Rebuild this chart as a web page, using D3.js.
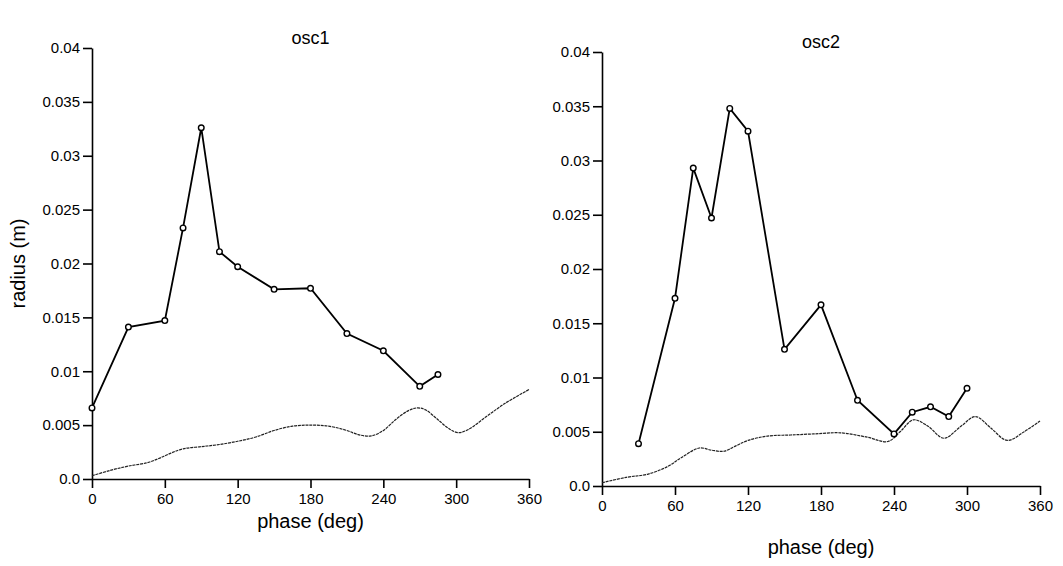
<!DOCTYPE html>
<html>
<head>
<meta charset="utf-8">
<script src="https://cdn.jsdelivr.net/npm/d3@7"></script>
<style>
  body { margin: 0; background: #fff; }
  svg { display: block; font-family: "Liberation Sans", Arial, sans-serif; }
</style>
</head>
<body>
<svg id="chart" width="1063" height="566"></svg>
<script>
// axis ticks
const phaseTicks = [0, 60, 120, 180, 240, 300, 360];
const radiusTicks = [0, 0.005, 0.01, 0.015, 0.02, 0.025, 0.03, 0.035, 0.04];
const radiusTickLabels = ["0.0", "0.005", "0.01", "0.015", "0.02", "0.025", "0.03", "0.035", "0.04"];

// osc1 measured points
const osc1Phase = [0, 30, 60, 75, 90, 105, 120, 150, 180, 210, 240, 270, 285];
const osc1Radius = [0.0066, 0.0141, 0.0147, 0.0233, 0.0326, 0.0211, 0.0197, 0.0176, 0.0177, 0.0135, 0.0119, 0.0086, 0.0097];
// osc1 thin reference curve
const osc1CurvePhase = [0, 15, 30, 45, 55, 65, 75, 90, 105, 120, 135, 150, 165, 180, 195, 210, 220, 230, 240, 250, 260, 268, 275, 285, 295, 302, 310, 325, 340, 360];
const osc1CurveRadius = [0.0003, 0.0008, 0.0012, 0.0015, 0.0019, 0.0024, 0.0028, 0.003, 0.0032, 0.0035, 0.0039, 0.0045, 0.0049, 0.005, 0.0049, 0.0045, 0.0041, 0.004, 0.0045, 0.0055, 0.0063, 0.0066, 0.0064, 0.0055, 0.0046, 0.0043, 0.0046, 0.0058, 0.007, 0.0083];

// osc2 measured points
const osc2Phase = [30, 60, 75, 90, 105, 120, 150, 180, 210, 240, 255, 270, 285, 300];
const osc2Radius = [0.0039, 0.0173, 0.0293, 0.0247, 0.0348, 0.0327, 0.0126, 0.0167, 0.0079, 0.0048, 0.0068, 0.0073, 0.0064, 0.009];
// osc2 thin reference curve
const osc2CurvePhase = [0, 20, 38, 54, 65, 80, 90, 100, 110, 120, 136, 155, 174, 196, 218, 235, 245, 256, 268, 281, 295, 307, 320, 333, 347, 360];
const osc2CurveRadius = [0.0003, 0.0008, 0.0011, 0.0018, 0.0026, 0.0035, 0.0033, 0.0032, 0.0037, 0.0042, 0.0046, 0.0047, 0.0048, 0.0049, 0.0045, 0.0041, 0.005, 0.0061, 0.0055, 0.0044, 0.0055, 0.0064, 0.0053, 0.0042, 0.005, 0.006];

const svg = d3.select("#chart");

// panel placement: x0/x1 = phase 0/360, y0/y1 = radius 0/0.04
const panels = [
  { title: "osc1", x0: 92, x1: 529, y0: 479, y1: 48, titleY: 44, xLabelY: 528, yLabel: true,
    phase: osc1Phase, radius: osc1Radius, cPhase: osc1CurvePhase, cRadius: osc1CurveRadius },
  { title: "osc2", x0: 602, x1: 1040, y0: 486, y1: 52, titleY: 48, xLabelY: 554, yLabel: false,
    phase: osc2Phase, radius: osc2Radius, cPhase: osc2CurvePhase, cRadius: osc2CurveRadius }
];

panels.forEach(p => {
  const x = d3.scaleLinear().domain([0, 360]).range([p.x0, p.x1]);
  const y = d3.scaleLinear().domain([0, 0.04]).range([p.y0, p.y1]);
  const g = svg.append("g");

  // x axis
  const xAxis = g.append("g")
    .attr("transform", `translate(0,${p.y0})`)
    .call(d3.axisBottom(x).tickValues(phaseTicks).tickSize(9).tickSizeOuter(0).tickPadding(5));
  xAxis.select(".domain").attr("stroke-width", 1.6);
  xAxis.selectAll(".tick line").attr("stroke-width", 1.6);
  xAxis.selectAll("text").attr("font-size", 15).attr("fill", "#000")
    .attr("font-family", "Liberation Sans, Arial, sans-serif");

  // y axis
  const yAxis = g.append("g")
    .attr("transform", `translate(${p.x0},0)`)
    .call(d3.axisLeft(y).tickValues(radiusTicks).tickSize(9).tickSizeOuter(0).tickPadding(3)
      .tickFormat((d, i) => radiusTickLabels[i]));
  yAxis.select(".domain").attr("stroke-width", 1.6);
  yAxis.selectAll(".tick line").attr("stroke-width", 1.6);
  yAxis.selectAll("text").attr("font-size", 15).attr("fill", "#000")
    .attr("font-family", "Liberation Sans, Arial, sans-serif");

  // thin reference curve
  const curveData = p.cPhase.map((d, i) => [d, p.cRadius[i]]);
  g.append("path")
    .datum(curveData)
    .attr("fill", "none")
    .attr("stroke", "#222")
    .attr("stroke-width", 1.2)
    .attr("stroke-dasharray", "3,0.8")
    .attr("d", d3.line().x(d => x(d[0])).y(d => y(d[1])).curve(d3.curveCatmullRom.alpha(0.5)));

  // measured line + markers
  const pts = p.phase.map((d, i) => [d, p.radius[i]]);
  g.append("path")
    .datum(pts)
    .attr("fill", "none")
    .attr("stroke", "#000")
    .attr("stroke-width", 1.8)
    .attr("d", d3.line().x(d => x(d[0])).y(d => y(d[1])));

  g.selectAll("circle.pt")
    .data(pts)
    .join("circle")
    .attr("class", "pt")
    .attr("cx", d => x(d[0]))
    .attr("cy", d => y(d[1]))
    .attr("r", 2.8)
    .attr("fill", "#fff")
    .attr("stroke", "#000")
    .attr("stroke-width", 1.4);

  // titles
  g.append("text")
    .attr("x", (p.x0 + p.x1) / 2)
    .attr("y", p.titleY)
    .attr("text-anchor", "middle")
    .attr("font-size", 18)
    .text(p.title);

  g.append("text")
    .attr("x", (p.x0 + p.x1) / 2)
    .attr("y", p.xLabelY)
    .attr("text-anchor", "middle")
    .attr("font-size", 20)
    .text("phase (deg)");

  if (p.yLabel) {
    g.append("text")
      .attr("transform", `translate(25,${(p.y0 + p.y1) / 2}) rotate(-90)`)
      .attr("text-anchor", "middle")
      .attr("font-size", 20)
      .text("radius (m)");
  }
});
</script>
</body>
</html>
